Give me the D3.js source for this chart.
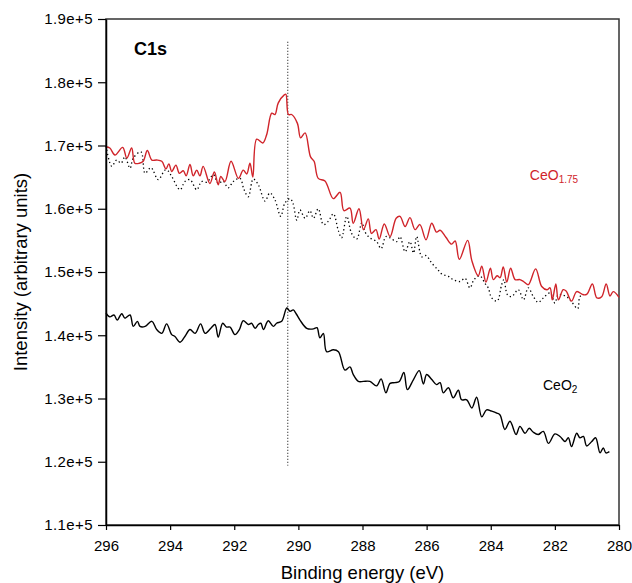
<!DOCTYPE html>
<html lang="en">
<head>
<meta charset="UTF-8">
<title>C1s</title>
<script src="https://cdn.jsdelivr.net/npm/d3@7"></script>
<style>
    body { margin: 0; background: #fff; }
    svg { font-family: Arial, "Liberation Sans", sans-serif; }
</style>
</head>
<body>
<div id="chart"></div>
<script>
// binding energy (eV) / intensity
var redEV = [296.00,295.88,295.72,295.48,295.35,295.20,295.10,294.96,294.84,294.71,294.57,294.42,294.26,294.13,294.04,293.95,293.82,293.71,293.59,293.50,293.38,293.28,293.17,293.07,292.97,292.76,292.62,292.50,292.42,292.29,292.10,291.87,291.72,291.61,291.51,291.42,291.30,291.11,290.99,290.83,290.73,290.63,290.44,290.39,290.31,290.21,290.03,289.93,289.79,289.62,289.51,289.38,289.17,288.91,288.70,288.58,288.39,288.29,288.11,287.97,287.82,287.72,287.58,287.48,287.32,287.14,286.95,286.83,286.67,286.52,286.36,286.21,286.02,285.84,285.69,285.58,285.40,285.22,285.11,284.98,284.72,284.59,284.39,284.28,284.15,284.01,283.92,283.80,283.71,283.61,283.50,283.38,283.24,283.09,282.98,282.83,282.60,282.41,282.25,282.15,282.08,281.97,281.89,281.74,281.65,281.48,281.32,281.11,281.00,280.83,280.69,280.54,280.40,280.28,280.18,280.00];
var redI = [169800,169600,168500,169700,168000,169600,167200,167200,167500,169200,167700,167700,167500,166300,167100,165900,166900,165600,166000,165200,167000,165200,166100,165200,166700,164000,165800,163800,165100,164300,167500,164800,166100,165500,167200,165000,171000,170400,171700,175100,174900,176700,178000,178100,174900,174900,173500,171200,172000,168200,167500,164800,164400,161600,162600,159700,160100,157700,160000,156700,158400,156100,156700,155200,157600,155600,158500,158800,157200,158600,156700,157500,155100,157700,156300,156600,155500,154400,154900,152000,155000,151800,149400,150900,148400,150600,148800,149400,149100,150800,148400,150600,148800,148800,148500,148000,150500,147700,147200,147500,145600,148100,145600,147200,147000,145400,146900,146400,146500,148100,145900,146100,148100,146200,146900,146000];

var dotEV = [296.00,295.82,295.67,295.53,295.41,295.25,295.15,294.91,294.78,294.60,294.37,294.16,294.07,293.95,293.69,293.54,293.38,293.17,293.02,292.85,292.65,292.50,292.35,292.19,292.03,291.82,291.70,291.56,291.41,291.25,291.04,290.89,290.73,290.55,290.42,290.26,290.17,290.05,289.95,289.79,289.64,289.53,289.38,289.22,289.07,288.91,288.75,288.65,288.49,288.34,288.18,288.02,287.92,287.77,287.56,287.42,287.27,287.14,286.93,286.83,286.67,286.52,286.41,286.31,286.15,286.02,285.84,285.64,285.53,285.32,285.17,284.96,284.80,284.65,284.52,284.34,284.18,284.08,283.97,283.80,283.66,283.59,283.48,283.35,283.14,282.98,282.83,282.67,282.52,282.36,282.15,282.00,281.90,281.79,281.63,281.48,281.29,281.22,281.11];
var dotI = [169900,166700,167700,167200,168200,166400,168000,169000,165600,166500,164600,166100,166000,165100,163000,164300,164600,163000,164300,164200,165400,164000,164400,163300,164300,164800,163100,161900,164700,163800,161200,162500,161400,158800,160900,161600,160900,158200,159800,158500,159700,158500,160000,157500,158000,159200,156500,155400,158800,156100,155200,157800,156300,155400,154800,153700,155600,155400,154800,155600,153200,154800,153000,155600,152400,152600,151400,150300,149700,149300,148800,148500,149000,147500,148800,149400,148200,147500,145900,145400,148000,148800,146400,146100,147200,145600,147500,146100,145200,145900,146700,145100,146400,146400,146100,145300,144200,146100,146500];

var blackEV = [296.00,295.88,295.75,295.65,295.51,295.41,295.25,295.15,295.02,294.94,294.78,294.57,294.42,294.26,294.11,293.95,293.85,293.69,293.54,293.38,293.22,293.05,292.91,292.73,292.60,292.50,292.36,292.24,292.13,291.98,291.84,291.72,291.56,291.46,291.35,291.25,291.17,291.09,290.94,290.78,290.68,290.52,290.36,290.26,290.16,290.07,289.95,289.74,289.53,289.42,289.33,289.22,289.12,288.91,288.75,288.55,288.39,288.29,288.13,287.97,287.77,287.56,287.42,287.27,287.14,286.99,286.85,286.71,286.60,286.41,286.23,286.10,286.00,285.84,285.69,285.58,285.48,285.32,285.17,285.01,284.91,284.75,284.59,284.44,284.28,284.13,283.97,283.81,283.71,283.56,283.40,283.21,283.09,282.93,282.80,282.68,282.52,282.36,282.20,282.00,281.84,281.68,281.58,281.48,281.32,281.22,281.11,281.01,280.85,280.73,280.59,280.49,280.41,280.30];
var blackI = [143500,142900,143200,142400,143400,142700,143200,141400,142200,141400,141400,142200,140900,140300,141800,140100,139800,138900,139800,140900,140300,141800,140300,141100,141700,139700,141900,141300,141300,140100,140900,142300,141700,141900,141100,141700,141900,140900,142300,141400,141900,142200,144300,143800,144000,143400,142400,141100,141000,141200,139600,140300,137400,137700,137400,134500,135000,133800,132700,132700,132700,132000,133100,130900,132400,132500,132700,134100,131400,133000,134400,132300,133800,133000,132200,132500,130900,131700,130100,131300,129800,129800,128500,130200,127100,128200,128000,127700,127400,125100,126400,124300,125600,124500,125300,124700,124300,124800,122900,124400,124000,123200,123800,122400,124500,123800,124000,122500,123200,123800,121400,122200,121400,121600];

var xTicks = [296, 294, 292, 290, 288, 286, 284, 282, 280];
var yTicks = [110000, 120000, 130000, 140000, 150000, 160000, 170000, 180000, 190000];

var markEV = 290.33;   // dotted guide line
var markI = [186400, 119400];

var width = 632, height = 583;
var margin = {top: 19, right: 13, bottom: 58, left: 106};

var x = d3.scaleLinear().domain([296, 280]).range([margin.left, width - margin.right]);
var y = d3.scaleLinear().domain([110000, 190000]).range([height - margin.bottom, margin.top]);

var svg = d3.select("#chart").append("svg")
    .attr("width", width)
    .attr("height", height);

function zip(a, b) {
    return a.map(function (v, i) { return [v, b[i]]; });
}

var line = d3.line()
    .x(function (d) { return x(d[0]); })
    .y(function (d) { return y(d[1]); })
    .curve(d3.curveCatmullRom.alpha(0.5));

// frame
svg.append("rect")
    .attr("x", margin.left)
    .attr("y", margin.top)
    .attr("width", width - margin.left - margin.right)
    .attr("height", height - margin.top - margin.bottom)
    .attr("fill", "none")
    .attr("stroke", "#333")
    .attr("stroke-width", 1.5);

// guide line
svg.append("line")
    .attr("x1", x(markEV)).attr("x2", x(markEV))
    .attr("y1", y(markI[0])).attr("y2", y(markI[1]))
    .attr("stroke", "#000")
    .attr("stroke-width", 1)
    .attr("stroke-dasharray", "1,2");

svg.append("path")
    .datum(zip(dotEV, dotI))
    .attr("fill", "none")
    .attr("stroke", "#000")
    .attr("stroke-width", 1.3)
    .attr("stroke-dasharray", "1.3,2.7")
    .attr("d", line);

svg.append("path")
    .datum(zip(redEV, redI))
    .attr("fill", "none")
    .attr("stroke", "#d0242a")
    .attr("stroke-width", 1.4)
    .attr("d", line);

svg.append("path")
    .datum(zip(blackEV, blackI))
    .attr("fill", "none")
    .attr("stroke", "#000")
    .attr("stroke-width", 1.4)
    .attr("d", line);

// axes
var xAxis = svg.append("g")
    .attr("transform", "translate(0," + (height - margin.bottom) + ")")
    .call(d3.axisBottom(x).tickValues(xTicks).tickFormat(d3.format("d")).tickSize(5).tickSizeOuter(0));

var yAxis = svg.append("g")
    .attr("transform", "translate(" + margin.left + ",0)")
    .call(d3.axisLeft(y).tickValues(yTicks).tickFormat(d3.format(".1e")).tickSize(8).tickSizeOuter(0));

[xAxis, yAxis].forEach(function (g) {
    g.select(".domain").attr("stroke", "#000").attr("stroke-width", 1.5);
    g.selectAll(".tick line").attr("stroke", "#000").attr("stroke-width", 1.2);
    g.selectAll(".tick text")
        .attr("fill", "#000")
        .style("font-size", "15px")
        .style("font-family", "Arial, 'Liberation Sans', sans-serif");
});
xAxis.selectAll(".tick text").attr("dy", "1.2em");
yAxis.selectAll(".tick text").attr("x", -13).style("letter-spacing", "0.4px");

// axis titles
svg.append("text")
    .attr("x", (margin.left + width - margin.right) / 2)
    .attr("y", 579)
    .attr("text-anchor", "middle")
    .style("font-size", "18.5px")
    .text("Binding energy (eV)");

svg.append("text")
    .attr("transform", "translate(27," + ((margin.top + height - margin.bottom) / 2) + ") rotate(-90)")
    .attr("text-anchor", "middle")
    .style("font-size", "18.5px")
    .text("Intensity (arbitrary units)");

// labels
svg.append("text")
    .attr("x", x(295.13))
    .attr("y", y(184300))
    .style("font-size", "18px")
    .style("font-weight", "bold")
    .text("C1s");

var lab1 = svg.append("text")
    .attr("x", x(282.78))
    .attr("y", y(164560))
    .attr("fill", "#d0242a")
    .style("font-size", "14px");
lab1.append("tspan").text("CeO");
lab1.append("tspan").attr("dy", 3).style("font-size", "10px").text("1.75");

var lab2 = svg.append("text")
    .attr("x", x(282.37))
    .attr("y", y(131400))
    .attr("fill", "#000")
    .style("font-size", "14px");
lab2.append("tspan").text("CeO");
lab2.append("tspan").attr("dy", 3).style("font-size", "10px").text("2");
</script>
</body>
</html>
